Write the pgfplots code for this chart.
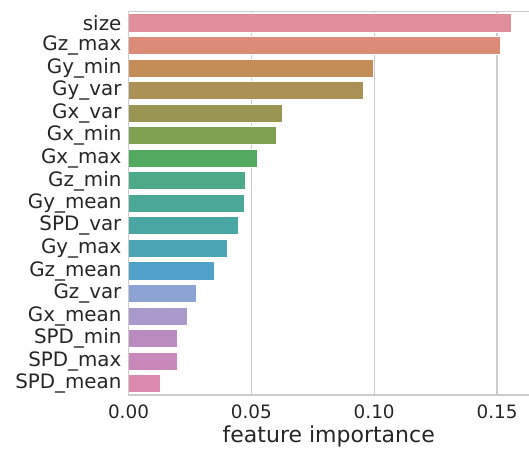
\documentclass[border=0pt]{standalone}
\usepackage{pgfplots}
\pgfplotsset{compat=1.18}
\usepackage{fontspec}
\setmainfont{DejaVu Sans}

\definecolor{txt}{HTML}{262626}
\definecolor{gridc}{HTML}{CCCCCC}
% bar colours, top to bottom
\definecolor{c0}{HTML}{DF8E9A}
\definecolor{c1}{HTML}{DB8B78}
\definecolor{c2}{HTML}{C48C56}
\definecolor{c3}{HTML}{AC9156}
\definecolor{c4}{HTML}{9A9552}
\definecolor{c5}{HTML}{80A052}
\definecolor{c6}{HTML}{52A95F}
\definecolor{c7}{HTML}{4CAA88}
\definecolor{c8}{HTML}{4CA896}
\definecolor{c9}{HTML}{4AA6A3}
\definecolor{c10}{HTML}{4BA5B5}
\definecolor{c11}{HTML}{51A2CA}
\definecolor{c12}{HTML}{8DA3D3}
\definecolor{c13}{HTML}{A99ACB}
\definecolor{c14}{HTML}{B98BBE}
\definecolor{c15}{HTML}{C889BA}
\definecolor{c16}{HTML}{DC89B0}

\begin{document}
\begin{tikzpicture}
\begin{axis}[
    name=ax,
    width=300.4pt, height=287.5pt,
    scale only axis,
    xbar, bar width=0.8, bar shift=0pt,
    y dir=reverse,
    xmin=0, xmax=0.163,
    ymin=-0.5, ymax=16.5,
    xtick={0,0.05,0.1,0.15},
    xticklabel style={/pgf/number format/fixed, /pgf/number format/precision=2,
        /pgf/number format/fixed zerofill, font=\fontsize{13.8}{16}\selectfont,
        color=txt, yshift=-3.6pt},
    /pgf/number format/assume math mode=true,
    ytick={0,...,16},
    yticklabels={size,Gz\_max,Gy\_min,Gy\_var,Gx\_var,Gx\_min,Gx\_max,Gz\_min,
        Gy\_mean,SPD\_var,Gy\_max,Gz\_mean,Gz\_var,Gx\_mean,SPD\_min,SPD\_max,SPD\_mean},
    yticklabel style={font=\fontsize{14.9}{16}\selectfont, color=txt, xshift=-1.8pt},
    major tick length=0pt,
    xmajorgrids, grid style={gridc, line width=1pt},
    axis line style={draw=none},
    xlabel={feature importance},
    xlabel style={font=\fontsize{16.5}{18}\selectfont, color=txt, yshift=1pt},
    every axis plot/.append style={draw=white, line width=0.75pt},
]
\addplot[fill=c0]  coordinates {(0.1557,0)};
\addplot[fill=c1]  coordinates {(0.1514,1)};
\addplot[fill=c2]  coordinates {(0.0998,2)};
\addplot[fill=c3]  coordinates {(0.0957,3)};
\addplot[fill=c4]  coordinates {(0.0627,4)};
\addplot[fill=c5]  coordinates {(0.0601,5)};
\addplot[fill=c6]  coordinates {(0.0527,6)};
\addplot[fill=c7]  coordinates {(0.0476,7)};
\addplot[fill=c8]  coordinates {(0.0474,8)};
\addplot[fill=c9]  coordinates {(0.0449,9)};
\addplot[fill=c10] coordinates {(0.0403,10)};
\addplot[fill=c11] coordinates {(0.0351,11)};
\addplot[fill=c12] coordinates {(0.0276,12)};
\addplot[fill=c13] coordinates {(0.0242,13)};
\addplot[fill=c14] coordinates {(0.0201,14)};
\addplot[fill=c15] coordinates {(0.0201,15)};
\addplot[fill=c16] coordinates {(0.0129,16)};
\end{axis}
% spines: left, top, bottom (the right one falls outside the picture)
\draw[gridc, line width=1pt] (ax.south east) -- (ax.south west)
    -- (ax.north west) -- (ax.north east);
\pgfresetboundingbox
\path ([xshift=-96.4pt,yshift=-39.75pt]ax.south west) rectangle ([yshift=8.8pt]ax.north east);
\end{tikzpicture}
\end{document}
